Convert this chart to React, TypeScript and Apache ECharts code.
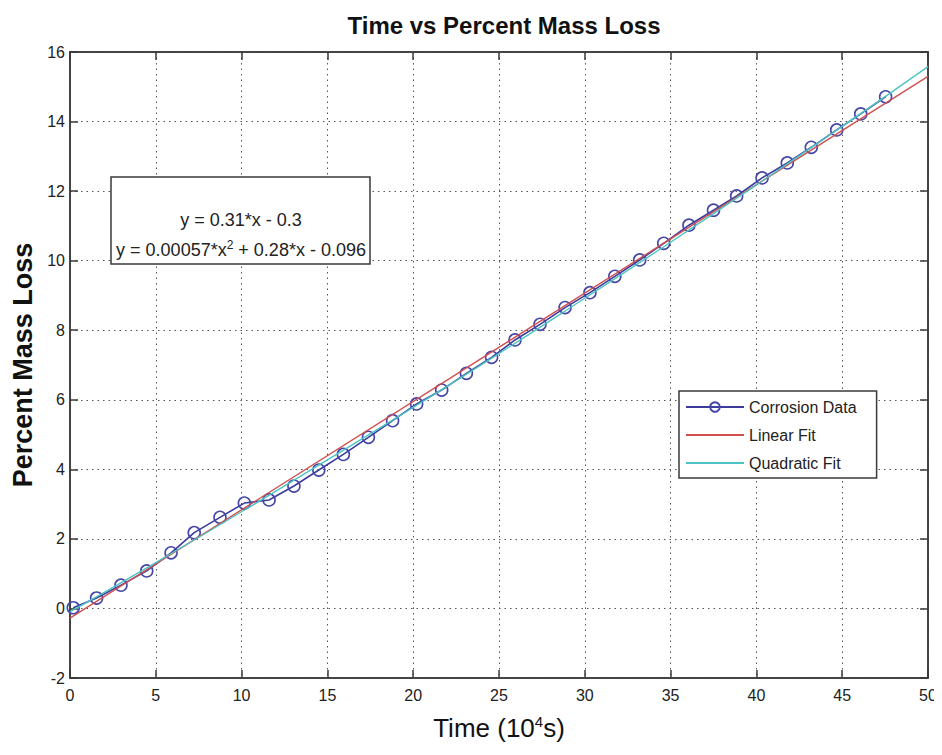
import React, { useEffect, useRef } from "react";
import * as echarts from "echarts";

const timeValues = [0.19, 1.55, 2.97, 4.47, 5.89, 7.24, 8.74, 10.16, 11.6, 13.05, 14.5, 15.93, 17.39, 18.8, 20.2, 21.66, 23.1, 24.57, 25.93, 27.39, 28.85, 30.3, 31.75, 33.2, 34.6, 36.07, 37.5, 38.85, 40.33, 41.8, 43.2, 44.68, 46.08, 47.53];
const massLoss = [0.02, 0.3, 0.67, 1.08, 1.6, 2.18, 2.62, 3.03, 3.12, 3.52, 3.98, 4.43, 4.92, 5.4, 5.88, 6.28, 6.76, 7.22, 7.72, 8.17, 8.65, 9.08, 9.55, 10.02, 10.5, 11.02, 11.45, 11.86, 12.38, 12.81, 13.26, 13.76, 14.22, 14.71];
const linearX = [0, 50];
const linearY = [-0.28, 15.3];
const quadX = [0, 5, 10, 15, 20, 25, 30, 35, 40, 45, 50];
const quadY = [-0.1, 1.32, 2.78, 4.27, 5.78, 7.33, 8.92, 10.53, 12.18, 13.86, 15.58];
const seriesNames = ["Corrosion Data", "Linear Fit", "Quadratic Fit"];
const eqLine1 = "y = 0.31*x - 0.3";
const eqLine2a = "y = 0.00057*x";
const eqLine2b = "2";
const eqLine2c = " + 0.28*x - 0.096";

const NARROW = "'Liberation Sans Narrow', 'Arial Narrow', 'Liberation Sans', Arial, sans-serif";
const SANS = "'Liberation Sans', Arial, sans-serif";

export default function App() {
  const ref = useRef<HTMLDivElement>(null);
  useEffect(() => {
    if (!ref.current) return;
    const chart = echarts.init(ref.current, undefined, { renderer: "svg" });
    const zip = (xs: number[], ys: number[]) => xs.map((x, i) => [x, ys[i]]);
    const frame = "#3a3a3a";
    const grid = { left: 70, right: 14, top: 52, bottom: 77 };
    const split = { show: true, lineStyle: { color: "#555", type: [1.5, 4] as any, width: 1 } };
    const tick = { show: true, inside: true, length: 8, lineStyle: { color: frame, width: 1.5 } };
    const line = { show: true, onZero: false, lineStyle: { color: frame, width: 1.5 } };
    chart.setOption({
      animation: false,
      backgroundColor: "#fff",
      title: {
        text: "Time vs Percent Mass Loss",
        left: 499,
        top: 8,
        textAlign: "center",
        textStyle: { fontFamily: NARROW, fontSize: 24, fontWeight: "bold", color: "#111" },
      },
      grid: { ...grid, show: true, borderColor: frame, borderWidth: 1.5, backgroundColor: "#fff" },
      legend: {
        orient: "vertical",
        left: 679,
        top: 391,
        data: seriesNames,
        itemWidth: 58,
        itemHeight: 12,
        itemGap: 12,
        padding: [8, 20, 7, 6],
        backgroundColor: "#fff",
        borderColor: frame,
        borderWidth: 1.5,
        borderRadius: 0,
        textStyle: { fontFamily: NARROW, fontSize: 16, color: "#222" },
      },
      xAxis: [
        {
          type: "value", min: 0, max: 50, interval: 5,
          axisLine: line,
          axisTick: tick,
          axisLabel: { fontFamily: NARROW, fontSize: 16, color: "#222", margin: 9 },
          splitLine: split,
          name: "{a|Time (10}{s|4}{a|s)}",
          nameLocation: "middle",
          nameGap: 36,
          nameTextStyle: {
            rich: {
              a: { fontFamily: NARROW, fontSize: 26, color: "#111", fontWeight: 500 },
              s: { fontFamily: NARROW, fontSize: 15, color: "#111", verticalAlign: "top", padding: [0, 0, 13, 0] },
            },
          },
        },
        {
          type: "value", min: 0, max: 50, interval: 5, position: "top",
          axisLine: line,
          axisTick: tick,
          axisLabel: { show: false },
          splitLine: { show: false },
        },
      ],
      yAxis: [
        {
          type: "value", min: -2, max: 16, interval: 2,
          axisLine: line,
          axisTick: tick,
          axisLabel: { fontFamily: NARROW, fontSize: 16, color: "#222", margin: 5 },
          splitLine: split,
          name: "Percent Mass Loss",
          nameLocation: "middle",
          nameGap: 32,
          nameTextStyle: { fontFamily: SANS, fontSize: 27, fontWeight: "bold", color: "#111" },
        },
        {
          type: "value", min: -2, max: 16, interval: 2, position: "right",
          axisLine: line,
          axisTick: tick,
          axisLabel: { show: false },
          splitLine: { show: false },
        },
      ],
      series: [
        {
          name: seriesNames[0],
          type: "line",
          data: zip(timeValues, massLoss),
          symbol: "circle",
          symbolSize: 12,
          showAllSymbol: true,
          lineStyle: { color: "#3c3c9c", width: 1.6 },
          itemStyle: { color: "rgba(255,255,255,0)", borderColor: "#4646a8", borderWidth: 1.6 },
          z: 2,
        },
        {
          name: seriesNames[1],
          type: "line",
          data: zip(linearX, linearY),
          symbol: "none",
          lineStyle: { color: "#d05050", width: 1.4 },
          itemStyle: { color: "rgba(0,0,0,0)", borderWidth: 0 },
          z: 3,
        },
        {
          name: seriesNames[2],
          type: "line",
          data: zip(quadX, quadY),
          smooth: true,
          symbol: "none",
          lineStyle: { color: "#4cc4c4", width: 1.4 },
          itemStyle: { color: "rgba(0,0,0,0)", borderWidth: 0 },
          z: 4,
        },
      ],
      graphic: [
        {
          type: "rect",
          shape: { x: 111, y: 177, width: 259, height: 87 },
          style: { fill: "#fff", stroke: frame, lineWidth: 1.5 },
          z: 100,
        },
        {
          type: "text",
          x: 241,
          y: 220,
          style: {
            text: eqLine1,
            fontFamily: NARROW, fontSize: 18, fill: "#222",
            align: "center", verticalAlign: "middle",
          },
          z: 101,
        },
        {
          type: "text",
          x: 241,
          y: 250,
          style: {
            text: "{a|" + eqLine2a + "}{s|" + eqLine2b + "}{a|" + eqLine2c + "}",
            align: "center", verticalAlign: "middle",
            rich: {
              a: { fontFamily: NARROW, fontSize: 18, fill: "#222", color: "#222" },
              s: { fontFamily: NARROW, fontSize: 12, fill: "#222", color: "#222", verticalAlign: "top", padding: [0, 0, 10, 0] },
            },
          },
          z: 101,
        },
      ],
    });
    return () => chart.dispose();
  }, []);
  return <div ref={ref} style={{ width: 942, height: 755, margin: -8 }} />;
}
